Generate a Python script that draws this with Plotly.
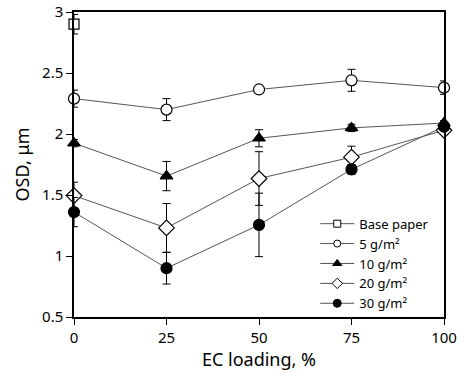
import plotly.graph_objects as go

x_base = [0]
base_y = [2.9]
base_err = [0.08]

x = [0, 25, 50, 75, 100]
y5 = [2.29, 2.2, 2.365, 2.44, 2.38]
e5 = [0.07, 0.09, 0.02, 0.09, 0.055]
y10 = [1.925, 1.655, 1.965, 2.05, 2.09]
e10 = [0.03, 0.12, 0.07, 0.03, 0.02]
y20 = [1.495, 1.23, 1.635, 1.81, 2.03]
e20 = [0.11, 0.2, 0.22, 0.09, 0.03]
y30 = [1.36, 0.9, 1.255, 1.71, 2.06]
e30 = [0.12, 0.13, 0.26, 0.04, 0.03]

names = ["Base paper", "5 g/m²", "10 g/m²", "20 g/m²", "30 g/m²"]
FONT = "Noto Sans"

fig = go.Figure()

series = [
    (x_base, base_y, base_err, "square", "white", 10, 7),
    (x, y5, e5, "circle", "white", 11, 7),
    (x, y10, e10, "triangle-up", "black", 11, 8),
    (x, y20, e20, "diamond", "white", 12, 8),
    (x, y30, e30, "circle", "black", 11, 8),
]

for name, (xs, ys, es, sym, fill, sz, lsz) in zip(names, series):
    fig.add_trace(go.Scatter(
        x=xs, y=ys, name=name, mode="lines+markers", showlegend=False,
        line=dict(color="#555555", width=1),
        marker=dict(symbol=sym, size=sz, color=fill, line=dict(color="black", width=1.2)),
        error_y=dict(type="data", array=es, visible=True, color="black", thickness=1, width=4),
        cliponaxis=False,
    ))
    # legend-only entry with the smaller legend symbol
    fig.add_trace(go.Scatter(
        x=[None], y=[None], name=name, mode="lines+markers", showlegend=True,
        line=dict(color="#555555", width=1),
        marker=dict(symbol=sym, size=lsz, color=fill, line=dict(color="black", width=1)),
    ))

fig.update_layout(
    width=464, height=379,
    margin=dict(l=74, r=20, t=12, b=62, autoexpand=False),
    paper_bgcolor="white", plot_bgcolor="white",
    font=dict(family=FONT, size=15, color="black"),
    showlegend=True,
    legend=dict(x=0.652, y=0.355, xanchor="left", yanchor="top",
                bgcolor="rgba(0,0,0,0)", font=dict(size=13, family=FONT),
                tracegroupgap=0, itemwidth=34),
)
fig.update_xaxes(
    range=[0, 100], tickvals=[0, 25, 50, 75, 100],
    showline=True, linecolor="black", linewidth=1.5, mirror=True,
    ticks="outside", ticklen=6, tickcolor="black",
    showgrid=False, zeroline=False, automargin=False,
    title=dict(text="EC loading, %", standoff=6),
)
fig.update_yaxes(
    range=[0.5, 3], tickvals=[0.5, 1, 1.5, 2, 2.5, 3],
    ticktext=["0.5", "1", "1.5", "2", "2.5", "3"],
    showline=True, linecolor="black", linewidth=1.5, mirror=True,
    ticks="outside", ticklen=6, tickcolor="black",
    showgrid=False, zeroline=False, automargin=False,
    title=dict(text="OSD, μm", standoff=8),
)

fig.write_html("out.html", config={"displayModeBar": False},
               post_script="document.body.style.margin='0';")
